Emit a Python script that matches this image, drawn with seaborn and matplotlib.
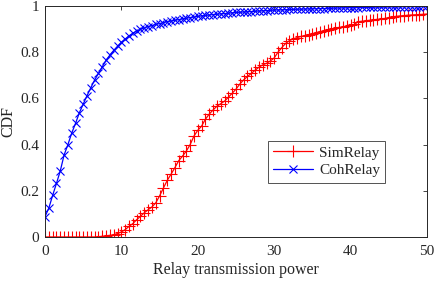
import matplotlib

matplotlib.use("Agg")

import matplotlib.pyplot as plt
import numpy as np
import pandas as pd
import seaborn as sns


POWER = np.arange(0, 50.5, 0.5)

SIM_RELAY = [
    0.000, 0.000, 0.000, 0.000, 0.000, 0.000, 0.000, 0.000, 0.000, 0.000,
    0.000, 0.000, 0.000, 0.000, 0.001, 0.003, 0.005, 0.007, 0.010, 0.015,
    0.022, 0.032, 0.046, 0.058, 0.075, 0.090, 0.105, 0.118, 0.130, 0.148,
    0.178, 0.212, 0.245, 0.272, 0.300, 0.330, 0.350, 0.372, 0.400, 0.437,
    0.462, 0.480, 0.510, 0.532, 0.550, 0.566, 0.577, 0.588, 0.605, 0.622,
    0.640, 0.662, 0.680, 0.695, 0.708, 0.722, 0.735, 0.745, 0.752, 0.762,
    0.775, 0.800, 0.820, 0.838, 0.850, 0.858, 0.863, 0.868, 0.872, 0.876,
    0.880, 0.885, 0.889, 0.893, 0.897, 0.901, 0.904, 0.907, 0.910, 0.913,
    0.916, 0.920, 0.932, 0.934, 0.936, 0.938, 0.940, 0.942, 0.944, 0.946,
    0.950, 0.953, 0.955, 0.957, 0.958, 0.960, 0.961, 0.962, 0.963, 0.964,
    0.965,
]

COH_RELAY = [
    0.088, 0.125, 0.180, 0.232, 0.286, 0.355, 0.400, 0.450, 0.492, 0.538,
    0.575, 0.612, 0.646, 0.680, 0.708, 0.737, 0.765, 0.788, 0.808, 0.826,
    0.843, 0.857, 0.871, 0.882, 0.892, 0.899, 0.905, 0.911, 0.915, 0.920,
    0.924, 0.928, 0.932, 0.935, 0.938, 0.941, 0.944, 0.947, 0.950, 0.952,
    0.955, 0.957, 0.959, 0.961, 0.963, 0.964, 0.966, 0.967, 0.969, 0.970,
    0.972, 0.973, 0.974, 0.975, 0.976, 0.977, 0.978, 0.979, 0.980, 0.981,
    0.982, 0.983, 0.983, 0.984, 0.985, 0.985, 0.986, 0.986, 0.987, 0.987,
    0.988, 0.988, 0.989, 0.989, 0.990, 0.990, 0.991, 0.991, 0.992, 0.992,
    0.993, 0.993, 0.993, 0.994, 0.994, 0.994, 0.995, 0.995, 0.995, 0.995,
    0.996, 0.996, 0.996, 0.996, 0.997, 0.997, 0.997, 0.997, 0.997, 0.998,
    0.998,
]

X_TICKS = [0, 10, 20, 30, 40, 50]
Y_TICKS = [0, 0.2, 0.4, 0.6, 0.8, 1]
Y_TICK_LABELS = ["0", "0.2", "0.4", "0.6", "0.8", "1"]


def main() -> None:
    sns.set_style("white")
    plt.rcParams["font.family"] = ["Liberation Serif", "DejaVu Serif"]

    df = pd.DataFrame({"power": POWER, "SimRelay": SIM_RELAY, "CohRelay": COH_RELAY})

    fig = plt.figure(figsize=(4.36, 2.81), dpi=100)
    ax = fig.add_axes([0.1032, 0.1566, 0.8761, 0.8221])

    sns.lineplot(data=df, x="power", y="SimRelay", color="#ff0000", marker="+",
                 markersize=8, markeredgewidth=0.8, markeredgecolor="#ff0000",
                 linewidth=0.9, label="SimRelay", ax=ax)
    sns.lineplot(data=df, x="power", y="CohRelay", color="#0000ff", marker="x",
                 markersize=5.5, markeredgewidth=0.8, markeredgecolor="#0000ff",
                 linewidth=0.9, label="CohRelay", ax=ax)

    ax.set_xlim(0, 50)
    ax.set_ylim(0, 1)
    ax.set_xticks(X_TICKS)
    ax.set_yticks(Y_TICKS)
    ax.set_yticklabels(Y_TICK_LABELS)
    ax.set_xlabel("Relay transmission power", fontsize=11.5, labelpad=3)
    ax.set_ylabel("CDF", fontsize=11.5, labelpad=3)
    ax.tick_params(direction="in", length=3, width=0.6, colors="#262626",
                   labelsize=11, top=True, right=True)
    ax.tick_params(axis="x", pad=5.5)
    ax.tick_params(axis="y", pad=4)
    for spine in ax.spines.values():
        spine.set_color("#262626")
        spine.set_linewidth(0.7)

    leg = ax.legend(loc="center", bbox_to_anchor=(0.737, 0.326), fontsize=11,
                    frameon=True, fancybox=False, handlelength=2.6,
                    borderpad=0.35, labelspacing=0.25, handletextpad=0.4)
    leg.get_frame().set_edgecolor("#262626")
    leg.get_frame().set_linewidth(0.7)

    fig.savefig("out.png", dpi=100)
    plt.close(fig)


if __name__ == "__main__":
    main()
